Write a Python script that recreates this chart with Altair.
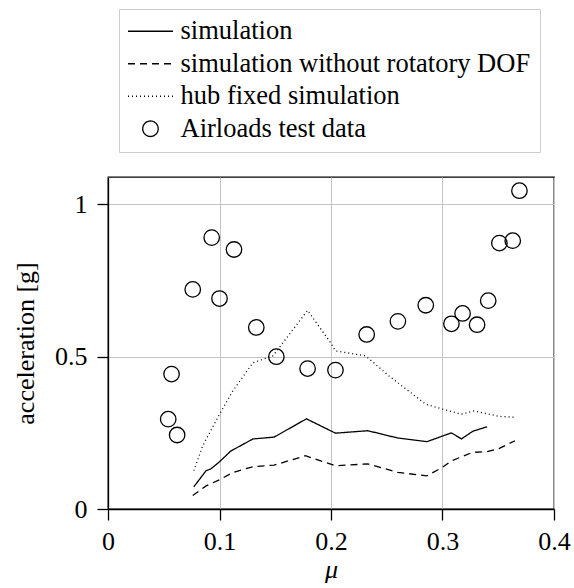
import altair as alt
import pandas as pd

# Airloads flight test points
mu_test = [0.054, 0.057, 0.062, 0.076, 0.093, 0.100, 0.113, 0.133, 0.151, 0.179, 0.204,
           0.232, 0.260, 0.285, 0.308, 0.318, 0.331, 0.341, 0.351, 0.363, 0.369]
acc_test = [0.295, 0.443, 0.243, 0.721, 0.891, 0.691, 0.852, 0.596, 0.500, 0.461, 0.456,
            0.573, 0.616, 0.669, 0.608, 0.642, 0.605, 0.684, 0.873, 0.881, 1.045]

# full simulation
mu_sim = [0.077, 0.088, 0.092, 0.100, 0.110, 0.130, 0.149, 0.178, 0.204, 0.233, 0.260,
          0.286, 0.308, 0.317, 0.327, 0.340]
acc_sim = [0.073, 0.126, 0.131, 0.155, 0.190, 0.230, 0.236, 0.296, 0.249, 0.257, 0.233,
           0.221, 0.250, 0.230, 0.255, 0.270]

# simulation without rotatory degrees of freedom
mu_norot = [0.076, 0.088, 0.100, 0.112, 0.130, 0.149, 0.177, 0.204, 0.233, 0.260, 0.286,
            0.300, 0.308, 0.327, 0.340, 0.351, 0.365]
acc_norot = [0.044, 0.076, 0.096, 0.120, 0.139, 0.144, 0.175, 0.142, 0.148, 0.120, 0.109,
             0.137, 0.158, 0.186, 0.188, 0.199, 0.224]

# hub fixed simulation
mu_hub = [0.077, 0.085, 0.100, 0.112, 0.130, 0.148, 0.179, 0.200, 0.204, 0.231, 0.252,
          0.285, 0.300, 0.317, 0.328, 0.351, 0.365]
acc_hub = [0.126, 0.208, 0.311, 0.388, 0.480, 0.503, 0.652, 0.544, 0.519, 0.503, 0.437,
           0.344, 0.328, 0.311, 0.322, 0.304, 0.301]

labels = ["simulation", "simulation without rotatory DOF", "hub fixed simulation",
          "Airloads test data"]
dashes = [[1, 0], [7, 5], [1, 3], [1, 0]]

# legend glyphs (unit path coordinates): a long stroke for the curves and a
# circle centred on that stroke for the test data
seg = "M-1.71,0H4.1"
ring = "M2.19,0A1,1,0,1,1,0.19,0A1,1,0,1,1,2.19,0Z"
legend_shapes = [seg, seg, seg, ring]
POINT_SIZE = 240

FONT = "Liberation Serif"

rows = []
for name, xs, ys in [(labels[0], mu_sim, acc_sim),
                     (labels[1], mu_norot, acc_norot),
                     (labels[2], mu_hub, acc_hub)]:
    for i, (x, y) in enumerate(zip(xs, ys)):
        rows.append({"series": name, "mu": x, "acc": y, "i": i})
sim_df = pd.DataFrame(rows)
test_df = pd.DataFrame({"series": labels[3], "mu": mu_test, "acc": acc_test})

x_enc = alt.X("mu:Q", title="μ",
              scale=alt.Scale(domain=[0, 0.4], nice=False),
              axis=alt.Axis(values=[0, 0.1, 0.2, 0.3, 0.4], format="~g",
                            labelPadding=8, titlePadding=2, labelFlush=False,
                            labelOverlap=False, titleFontStyle="italic"))
y_enc = alt.Y("acc:Q", title="acceleration [g]",
              scale=alt.Scale(domain=[0, 1.09], nice=False),
              axis=alt.Axis(values=[0, 0.5, 1], format="~g", labelFlush=False,
                            labelOverlap=False, labelPadding=10, titlePadding=16))

legend = alt.Legend(
    title=None, orient="none", legendX=11, legendY=-168,
    symbolSize=POINT_SIZE, symbolStrokeWidth=1.3, symbolStrokeColor="black",
    symbolFillColor="transparent", symbolOpacity=1,
    labelFont=FONT, labelFontSize=26.5, labelColor="black", labelOffset=26,
    labelLimit=0, rowPadding=5.5, padding=9,
    strokeColor="#cccccc", fillColor="white", cornerRadius=0,
)

lines = alt.Chart(sim_df).mark_line(color="black", strokeWidth=1.3).encode(
    x=x_enc, y=y_enc,
    strokeDash=alt.StrokeDash("series:N",
                              scale=alt.Scale(domain=labels, range=dashes),
                              legend=legend),
    order="i:Q",
)

# carries only the shape scale that feeds the shared legend
legend_keys = alt.Chart(test_df).transform_filter("false").mark_point(
    filled=False, color="black", size=POINT_SIZE, strokeWidth=1.3, opacity=1
).encode(
    x=x_enc, y=y_enc,
    shape=alt.Shape("series:N", scale=alt.Scale(domain=labels, range=legend_shapes),
                    legend=legend),
)

points = alt.Chart(test_df).mark_point(shape="circle", filled=False, color="black",
                                       size=POINT_SIZE, strokeWidth=1.3, opacity=1).encode(
    x=x_enc, y=y_enc,
)

chart = alt.layer(lines, legend_keys, points).properties(
    width=446, height=332,
    padding={"left": 108, "top": 177, "right": 20, "bottom": 79},
    autosize=alt.AutoSizeParams(type="none"),
    background="white",
).configure_view(
    stroke="black", strokeWidth=1.3,
).configure_axis(
    labelFont=FONT, labelFontSize=26, labelColor="black",
    titleFont=FONT, titleFontSize=26, titleColor="black", titleFontWeight="normal",
    domainColor="black", domainWidth=1.3, tickColor="black", tickSize=11, tickWidth=1.3,
    gridColor="#c4c4c4", gridWidth=1,
)

chart.save("out.html", embed_options={"renderer": "svg", "actions": False})
